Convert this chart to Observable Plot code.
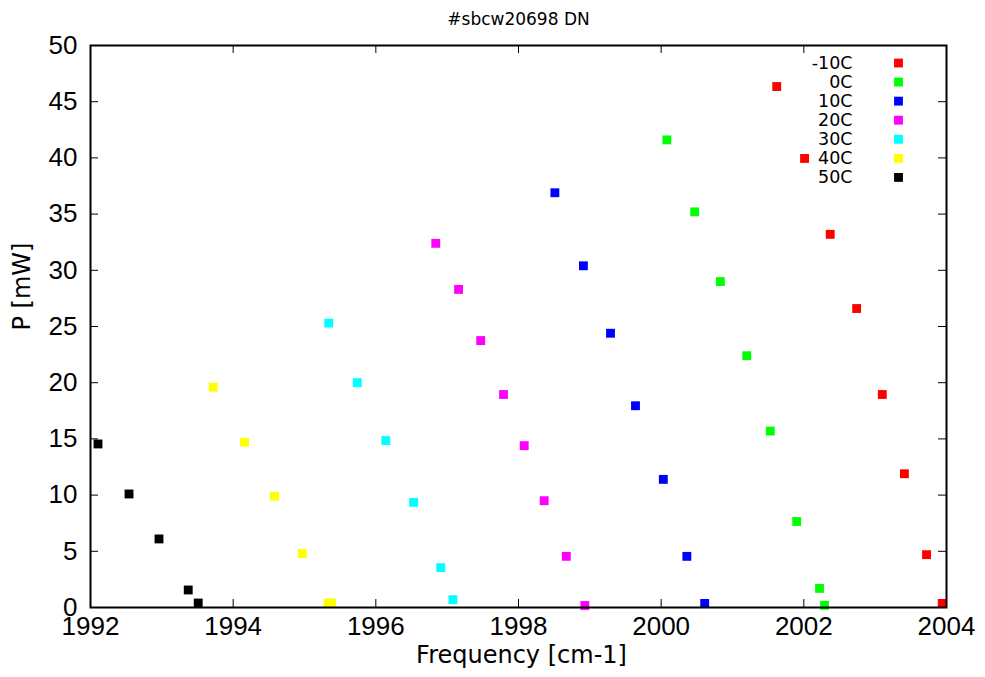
<!DOCTYPE html>
<html>
<head>
<meta charset="utf-8">
<script src="https://cdn.jsdelivr.net/npm/d3@7"></script>
<script src="https://cdn.jsdelivr.net/npm/@observablehq/plot@0.6"></script>
<style>
  html, body { margin: 0; padding: 0; background: #fff; }
  #chart { width: 985px; height: 677px; }
</style>
</head>
<body>
<div id="chart"></div>
<script>
const titleText = "#sbcw20698 DN";
const xLabel = "Frequency [cm-1]";
const yLabel = "P [mW]";

const seriesNames = ["-10C", "0C", "10C", "20C", "30C", "40C", "50C"];
const seriesColors = ["#ff0000", "#00ff00", "#0000ff", "#ff00ff", "#00ffff", "#ffff00", "#000000"];

const freqM10 = [2001.62, 2002.01, 2002.37, 2002.74, 2003.10, 2003.41, 2003.72, 2003.94];
const powM10  = [46.35, 39.95, 33.2, 26.6, 18.95, 11.9, 4.7, 0.36];

const freq0 = [2000.08, 2000.47, 2000.83, 2001.20, 2001.53, 2001.90, 2002.22, 2002.29];
const pow0  = [41.6, 35.2, 29.0, 22.4, 15.7, 7.65, 1.7, 0.2];

const freq10 = [1998.51, 1998.91, 1999.29, 1999.64, 2000.03, 2000.36, 2000.61];
const pow10  = [36.9, 30.4, 24.4, 17.95, 11.4, 4.55, 0.36];

const freq20 = [1996.84, 1997.16, 1997.47, 1997.79, 1998.08, 1998.36, 1998.67, 1998.93];
const pow20  = [32.4, 28.3, 23.75, 18.95, 14.4, 9.5, 4.55, 0.18];

const freq30 = [1995.34, 1995.74, 1996.14, 1996.53, 1996.91, 1997.08];
const pow30  = [25.3, 20.0, 14.85, 9.35, 3.55, 0.7];

const freq40 = [1993.72, 1994.16, 1994.58, 1994.97, 1995.33, 1995.38];
const pow40  = [19.6, 14.7, 9.9, 4.8, 0.38, 0.4];

const freq50 = [1992.105, 1992.54, 1992.96, 1993.37, 1993.51];
const pow50  = [14.55, 10.1, 6.1, 1.56, 0.4];

const xTicks = [1992, 1994, 1996, 1998, 2000, 2002, 2004];
const yTicks = [0, 5, 10, 15, 20, 25, 30, 35, 40, 45, 50];

const freqs = [freqM10, freq0, freq10, freq20, freq30, freq40, freq50];
const pows = [powM10, pow0, pow10, pow20, pow30, pow40, pow50];

const data = [];
seriesNames.forEach((name, i) => {
  freqs[i].forEach((f, j) => data.push({series: name, x: f, y: pows[i][j]}));
});

const W = 985, H = 677;
const mL = 90, mR = 39, mT = 45, mB = 70;
const innerW = W - mL - mR, innerH = H - mT - mB;
const tickLen = 8;
const labelFont = "'DejaVu Sans', sans-serif";
const tickFont = "'Liberation Sans', Arial, sans-serif";

const legendMarks = [];
seriesNames.forEach((name, i) => {
  legendMarks.push(Plot.text([name], {
    text: d => d, frameAnchor: "top-right", dx: -94, dy: 17.5 + i * 19.07,
    textAnchor: "end", lineAnchor: "middle", fontSize: 17.5, fontFamily: labelFont, fill: "#000"
  }));
  legendMarks.push(Plot.dot([name], {
    frameAnchor: "top-right", dx: -48, dy: 17.5 + i * 19.07,
    symbol: "square", r: 5, fill: seriesColors[i], stroke: null
  }));
});

const chart = Plot.plot({
  width: W, height: H,
  marginLeft: mL, marginRight: mR, marginTop: mT, marginBottom: mB,
  style: { fontFamily: tickFont, fontSize: "26px", background: "#fff", color: "#000" },
  x: { domain: [1992, 2004], ticks: xTicks, tickFormat: d => String(d) },
  y: { domain: [0, 50], ticks: yTicks },
  color: { domain: seriesNames, range: seriesColors },
  marks: [
    Plot.axisX({ ticks: xTicks, tickSize: 0, tickPadding: 9, label: null, tickFormat: d => String(d), fontSize: 26 }),
    Plot.axisY({ ticks: yTicks, tickSize: 0, tickPadding: 13, label: null, fontSize: 26 }),
    Plot.tickX(xTicks, { x: d => d, insetTop: innerH - tickLen, stroke: "#000", strokeWidth: 1 }),
    Plot.tickX(xTicks, { x: d => d, insetBottom: innerH - tickLen, stroke: "#000", strokeWidth: 1 }),
    Plot.tickY(yTicks, { y: d => d, insetRight: innerW - tickLen, stroke: "#000", strokeWidth: 1 }),
    Plot.tickY(yTicks, { y: d => d, insetLeft: innerW - tickLen, stroke: "#000", strokeWidth: 1 }),
    Plot.dot(data, { x: "x", y: "y", fill: "series", symbol: "square", r: 5, stroke: null }),
    Plot.frame({ stroke: "#000", strokeWidth: 2 }),
    ...legendMarks,
    Plot.text([titleText], { text: d => d, frameAnchor: "top", dy: -26, lineAnchor: "middle", fontSize: 17, fontFamily: labelFont, fill: "#000" }),
    Plot.text([xLabel], { text: d => d, frameAnchor: "bottom", dx: 3, dy: 48, lineAnchor: "middle", fontSize: 24, fontFamily: labelFont, fill: "#000" }),
    Plot.text([yLabel], { text: d => d, frameAnchor: "left", dx: -68, dy: 4, rotate: -90, lineAnchor: "middle", fontSize: 24, fontFamily: labelFont, fill: "#000" })
  ]
});
document.getElementById("chart").appendChild(chart);
</script>
</body>
</html>
